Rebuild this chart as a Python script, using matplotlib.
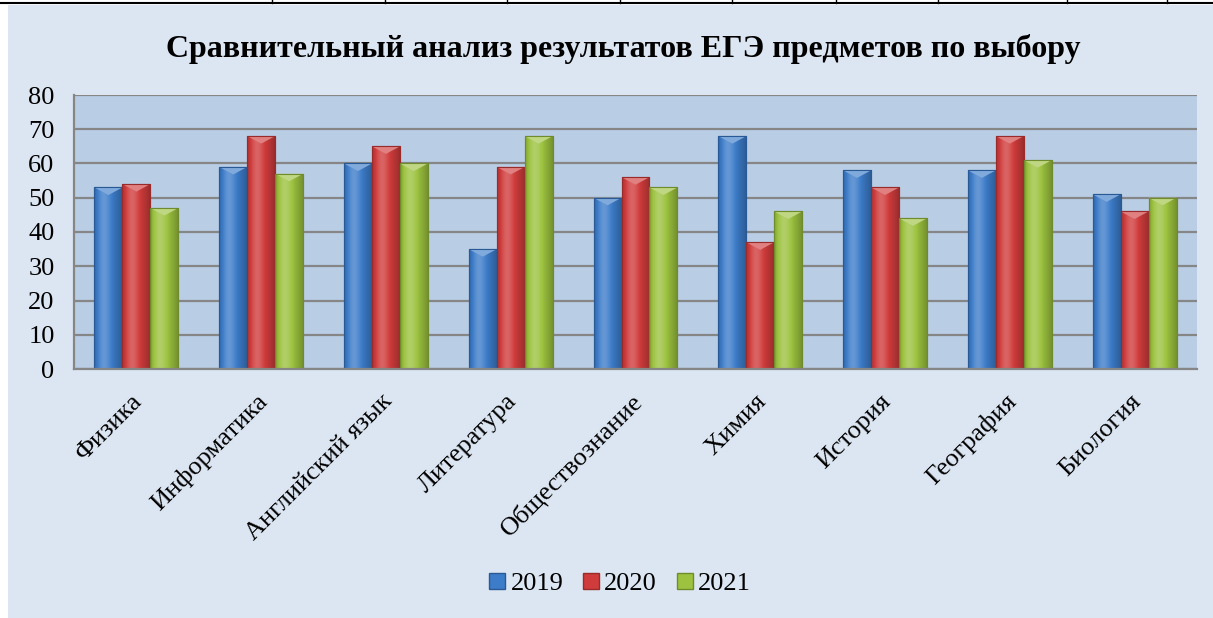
import numpy as np
import matplotlib.pyplot as plt
import matplotlib.transforms as mtransforms
from matplotlib.patches import Rectangle, Polygon, Patch
from matplotlib.lines import Line2D
from matplotlib.colors import to_rgb

plt.rcParams['font.family'] = ['Liberation Serif', 'DejaVu Serif']

# data
subjects = ['Физика', 'Информатика', 'Английский язык', 'Литература', 'Обществознание',
            'Химия', 'История', 'География', 'Биология']
years = ['2019', '2020', '2021']
y2019 = [53, 59, 60, 35, 50, 68, 58, 58, 51]
y2020 = [54, 68, 65, 59, 56, 37, 53, 68, 46]
y2021 = [47, 57, 60, 68, 53, 46, 44, 61, 50]
series = [y2019, y2020, y2021]

colors = ['#3d7cc9', '#d03c3c', '#9cc23f']
edges = ['#2a5a96', '#9a2b2b', '#6f8c2c']

W, H = 1213, 618
fig = plt.figure(figsize=(W / 100, H / 100), dpi=100)
fig.patch.set_facecolor('white')

# chart background and table border at the top
fig.patches.append(Rectangle((8 / W, 0), 1 - 8 / W, 1 - 5 / H, transform=fig.transFigure,
                             facecolor='#dce6f2', edgecolor='none', zorder=-5))
fig.lines.append(Line2D([0, 1], [1 - 3 / H, 1 - 3 / H], transform=fig.transFigure, color='black', lw=1.5))
for xt in [272, 385, 507, 620, 732, 836, 938, 1067, 1167]:
    fig.lines.append(Line2D([xt / W, xt / W], [1 - 3 / H, 1], transform=fig.transFigure, color='black', lw=1))

ax = fig.add_axes([74 / W, 1 - 369 / H, (1197 - 74) / W, (369 - 95) / H])
ax.set_facecolor('#b9cde5')
ax.set_yticks(range(0, 81, 10))
ax.grid(axis='y', color='#868686', lw=1.6, zorder=1)
ax.set_axisbelow(True)
for s in ['top', 'right']:
    ax.spines[s].set_visible(False)
for s in ['left', 'bottom']:
    ax.spines[s].set_color('#868686')
    ax.spines[s].set_linewidth(1.6)

bw = 0.224
x = np.arange(len(subjects))

def shade(c, f):
    r = np.array(to_rgb(c))
    if f >= 0:
        return r + (1 - r) * f
    return r * (1 + f)

prof = np.linspace(0, 1, 60)
for i, vals in enumerate(series):
    # horizontal cylinder-like gradient
    k = 0.25 * np.exp(-((prof - 0.35) / 0.25) ** 2) - 0.25 * prof ** 3 - 0.2 * (1 - prof) ** 4
    grad = np.array([np.clip(shade(colors[i], kk), 0, 1) for kk in k])[None, :, :]
    for j, v in enumerate(vals):
        xc = x[j] + (i - 1) * bw
        x0, x1 = xc - bw / 2, xc + bw / 2
        bar = ax.bar(xc, v, bw, color=colors[i], edgecolor=edges[i], lw=0.8, zorder=2)[0]
        im = ax.imshow(grad, extent=(x0, x1, 0, v), aspect='auto', zorder=2.1, interpolation='bilinear')
        im.set_clip_path(bar)
        tri = Polygon([[x0, v], [x1, v], [xc, v - 2.2]], closed=True,
                      facecolor=shade(colors[i], 0.35), edgecolor='none', zorder=2.2)
        ax.add_patch(tri)
        ax.add_patch(Rectangle((x0, 0), bw, v, fill=False, edgecolor=edges[i], lw=0.8, zorder=2.3))

ax.set_xlim(-0.5, len(subjects) - 0.5)
ax.set_ylim(0, 80)
ax.set_xticks(x)
ax.set_xticklabels(subjects, rotation=45, ha='right', rotation_mode='anchor', fontsize=19)
ax.tick_params(axis='x', length=0, pad=8)
ax.tick_params(axis='y', length=0, labelsize=19, pad=14)
off = mtransforms.ScaledTranslation(-5 / 100, -10 / 100, fig.dpi_scale_trans)
for lab in ax.get_xticklabels():
    lab.set_transform(lab.get_transform() + off)

fig.text(623 / W, 1 - 49 / H, 'Сравнительный анализ результатов ЕГЭ предметов по выбору',
         ha='center', va='center', fontsize=23, fontweight='bold')

handles = [Patch(facecolor=colors[i], edgecolor=edges[i], label=years[i]) for i in range(3)]
fig.legend(handles=handles, loc='center', bbox_to_anchor=(620 / W, 1 - 584 / H), ncol=3, frameon=False,
           fontsize=19, handlelength=0.6, handleheight=0.6, handletextpad=0.2, columnspacing=0.75)

fig.savefig('out.png', dpi=100, facecolor=fig.get_facecolor())
